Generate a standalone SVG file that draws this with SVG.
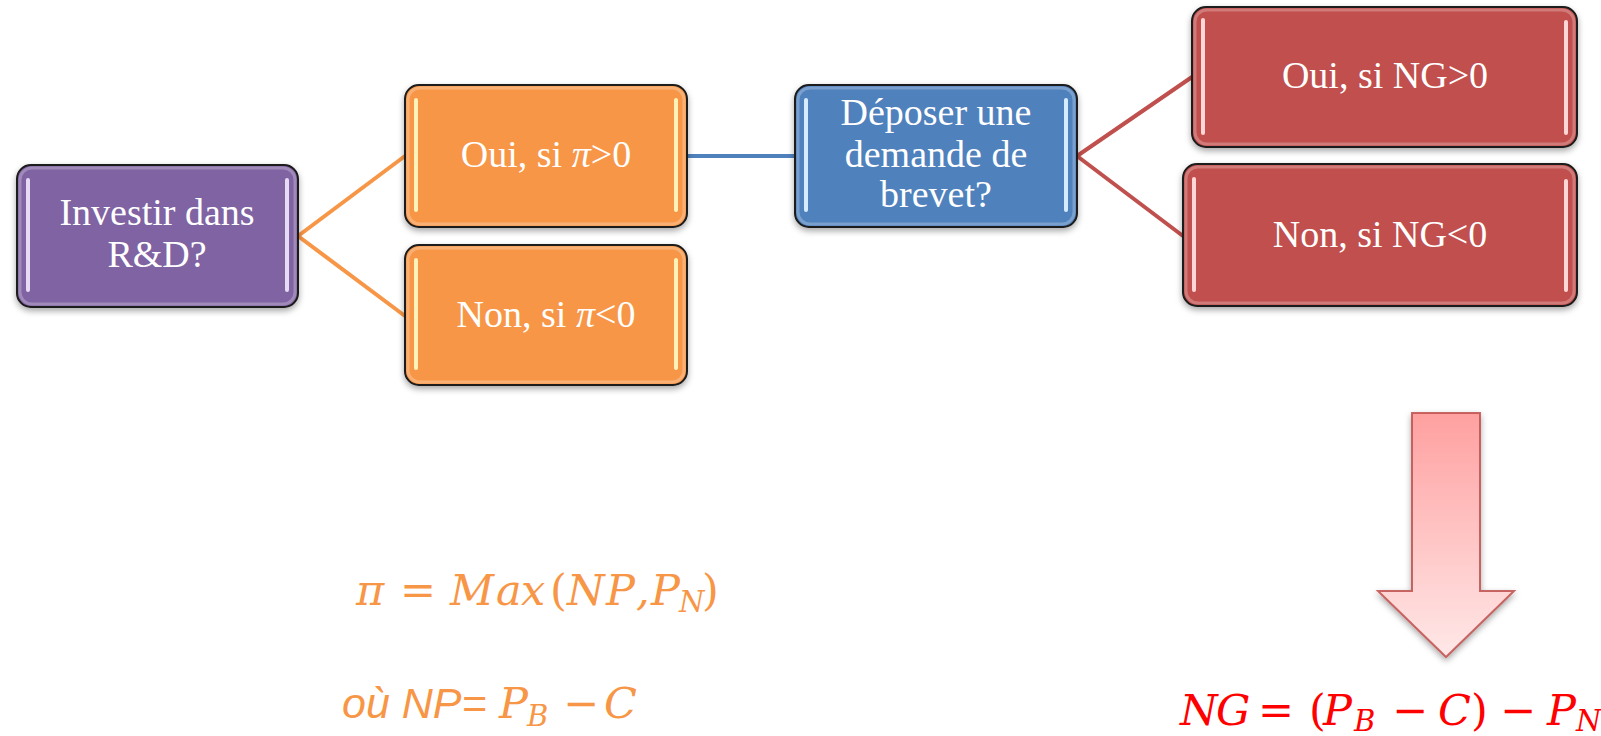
<svg xmlns="http://www.w3.org/2000/svg" width="1601" height="736" viewBox="0 0 1601 736">
<defs>
<filter id="sh" x="-10%" y="-10%" width="120%" height="130%"><feDropShadow dx="0" dy="3" stdDeviation="3" flood-color="#000" flood-opacity="0.35"/></filter>
<linearGradient id="arrowGrad" x1="0" y1="0" x2="0" y2="1"><stop offset="0" stop-color="#FFA0A0"/><stop offset="1" stop-color="#FFE8E8"/></linearGradient>
</defs>
<style>
.box{stroke:#1a1a1a;stroke-width:2;filter:url(#sh)}
.inner{fill:none;stroke:#fff;stroke-opacity:0.25;stroke-width:3}
.lbl{font-family:"Liberation Serif",serif;font-size:38px;fill:#fff;text-anchor:middle}
.bar{stroke-width:4;stroke-linecap:round}
.math{font-family:"DejaVu Serif",serif;font-style:italic;font-size:43px}
.up{font-style:normal}
.sub{font-size:29px}
.sans{font-family:"Liberation Sans",sans-serif;font-style:italic;font-size:43px}
.conn{fill:none;stroke-width:4}
</style>
<rect width="1601" height="736" fill="#fff"/>
<g id="connectors">
<path class="conn" d="M298,236 L405,156 M298,236 L405,316" stroke="#F79646"/>
<path class="conn" d="M687,156 L795,156" stroke="#4F81BD" stroke-width="5"/>
<path class="conn" d="M1077,156 L1192,77 M1077,156 L1183,236" stroke="#C0504D"/>
</g>
<g id="n-investir">
<rect class="box" x="17" y="165" width="281" height="142" rx="14" fill="#8064A2"/>
<rect class="inner" x="20" y="168" width="275" height="136" rx="12"/>
<path class="bar" d="M28,180 V290 M287,180 V290" stroke="#E6DAF5"/>
<text class="lbl" x="157" y="225">Investir dans</text>
<text class="lbl" x="157" y="267">R&amp;D?</text>
</g>
<g id="n-oui-pi">
<rect class="box" x="405" y="85" width="282" height="142" rx="14" fill="#F79646"/>
<rect class="inner" x="408" y="88" width="276" height="136" rx="12"/>
<path class="bar" d="M416,100 V210 M676,100 V210" stroke="#FFF2B8"/>
<text class="lbl" x="546" y="167">Oui, si <tspan font-style="italic">π</tspan>&gt;0</text>
</g>
<g id="n-non-pi">
<rect class="box" x="405" y="245" width="282" height="140" rx="14" fill="#F79646"/>
<rect class="inner" x="408" y="248" width="276" height="134" rx="12"/>
<path class="bar" d="M416,260 V368 M676,260 V368" stroke="#FFF2B8"/>
<text class="lbl" x="546" y="327">Non, si <tspan font-style="italic">π</tspan>&lt;0</text>
</g>
<g id="n-deposer">
<rect class="box" x="795" y="85" width="282" height="142" rx="14" fill="#4F81BD"/>
<rect class="inner" x="798" y="88" width="276" height="136" rx="12"/>
<path class="bar" d="M806,100 V210 M1066,100 V210" stroke="#D6EBFF"/>
<text class="lbl" x="936" y="125">Déposer une</text>
<text class="lbl" x="936" y="167">demande de</text>
<text class="lbl" x="936" y="207">brevet?</text>
</g>
<g id="n-oui-ng">
<rect class="box" x="1192" y="7" width="385" height="140" rx="14" fill="#C0504D"/>
<rect class="inner" x="1195" y="10" width="379" height="134" rx="12"/>
<path class="bar" d="M1203,20 V133 M1566,22 V133" stroke="#FFD6D6"/>
<text class="lbl" x="1385" y="88">Oui, si NG&gt;0</text>
</g>
<g id="n-non-ng">
<rect class="box" x="1183" y="164" width="394" height="142" rx="14" fill="#C0504D"/>
<rect class="inner" x="1186" y="167" width="388" height="136" rx="12"/>
<path class="bar" d="M1194,179 V290 M1566,181 V290" stroke="#FFD6D6"/>
<text class="lbl" x="1380" y="247">Non, si NG&lt;0</text>
</g>
<g id="arrow">
<path d="M1412,413 H1480 V591 H1514 L1446,657 L1378,591 H1412 Z" fill="url(#arrowGrad)" stroke="#C0504D" stroke-width="2" stroke-opacity="0.85" filter="url(#sh)"/>
</g>
<g id="formula-pi" fill="#F79646">
<text class="math" y="605"><tspan x="356">π</tspan><tspan class="up" x="400">=</tspan><tspan x="450">M</tspan><tspan x="496">a</tspan><tspan x="521">x</tspan><tspan class="up" x="550">(</tspan><tspan x="567">N</tspan><tspan x="606">P</tspan><tspan x="636">,</tspan><tspan x="651">P</tspan><tspan class="sub" x="679" y="612">N</tspan><tspan class="up" x="702" y="605">)</tspan></text>
<text class="math" y="718"><tspan class="sans" x="342">où NP=</tspan><tspan x="499">P</tspan><tspan class="sub" x="527" y="726">B</tspan><tspan class="up" x="563" y="718">−</tspan><tspan x="604">C</tspan></text>
</g>
<g id="formula-ng" fill="#FF0000">
<text class="math" y="725"><tspan x="1180">N</tspan><tspan x="1216">G</tspan><tspan class="up" x="1258">=</tspan><tspan class="up" x="1309">(</tspan><tspan x="1323">P</tspan><tspan class="sub" x="1354" y="731">B</tspan><tspan class="up" x="1392" y="725">−</tspan><tspan x="1438">C</tspan><tspan class="up" x="1471">)</tspan><tspan class="up" x="1500">−</tspan><tspan x="1547">P</tspan><tspan class="sub" x="1576" y="731">N</tspan></text>
</g>
</svg>
